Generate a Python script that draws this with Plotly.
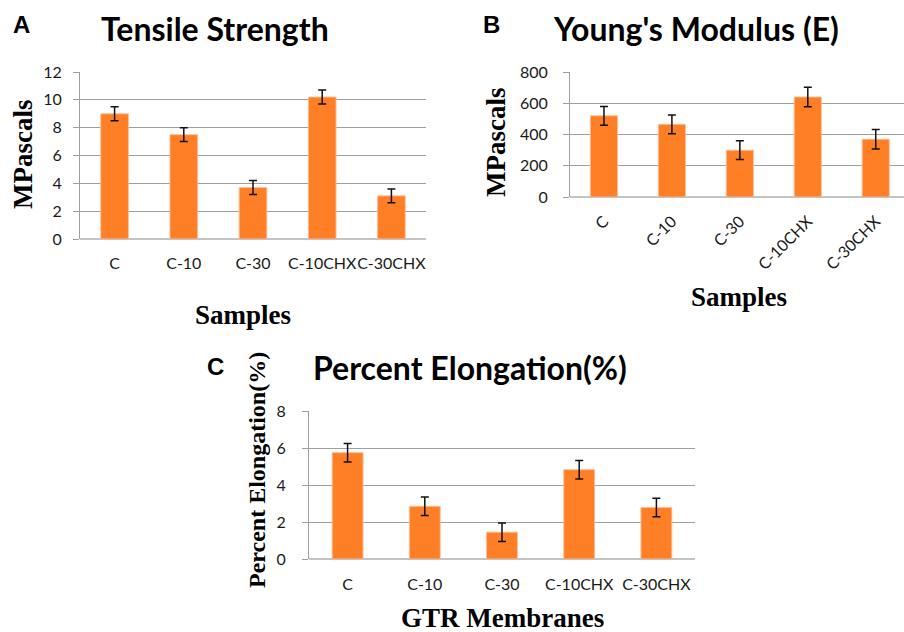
import plotly.graph_objects as go

categories = ["C", "C-10", "C-30", "C-10CHX", "C-30CHX"]
tensile = [9.0, 7.5, 3.7, 10.2, 3.1]
tensile_err = [0.5, 0.5, 0.5, 0.5, 0.5]
modulus = [520, 465, 300, 640, 370]
modulus_err = [60, 60, 60, 62, 62]
elong = [5.75, 2.85, 1.45, 4.83, 2.79]
elong_err = [0.5, 0.5, 0.5, 0.5, 0.5]

W, H = 904, 632
BAR = "rgb(255,127,39)"
GRID = "#9f9f9f"
TICKFONT = dict(family="Lato", size=16, color="#1a1a1a")


def px(x):
    return x / W


def py(y):
    return 1 - y / H


fig = go.Figure()


def add_bars(x, y, err, xa, ya):
    fig.add_trace(go.Bar(
        x=x, y=y, xaxis=xa, yaxis=ya, width=0.4,
        marker=dict(color=BAR, line=dict(color="rgba(255,190,150,0.9)", width=1)),
        error_y=dict(type="data", array=err, visible=True, color="#111111",
                     thickness=1.5, width=4),
        showlegend=False, hoverinfo="x+y",
    ))


add_bars(categories, tensile, tensile_err, "x", "y")
add_bars(categories, modulus, modulus_err, "x2", "y2")
add_bars(categories, elong, elong_err, "x3", "y3")

common_y = dict(showgrid=True, gridcolor=GRID, gridwidth=1, showline=True,
                linecolor=GRID, linewidth=1, ticks="outside", ticklen=6,
                tickcolor=GRID, zeroline=True, zerolinecolor="#c4c4c4",
                zerolinewidth=2, tickfont=TICKFONT, fixedrange=True,
                automargin=False)
common_x = dict(showgrid=False, showline=False, ticks="", tickfont=TICKFONT,
                fixedrange=True, automargin=False)

fig.update_layout(
    width=W, height=H,
    margin=dict(l=0, r=0, t=0, b=0, pad=0, autoexpand=False),
    showlegend=False,
    paper_bgcolor="white", plot_bgcolor="white", bargap=0.6,
    xaxis=dict(domain=[px(80), px(426)], anchor="y", range=[-0.5, 4.5],
               tickangle=0, ticklabelstandoff=13, **common_x),
    yaxis=dict(domain=[py(239), py(72)], anchor="x", range=[0, 12], dtick=2,
               ticklabelstandoff=8, **common_y),
    xaxis2=dict(domain=[px(570), 1.0], anchor="y2", range=[-0.5, 4.416],
                tickangle=-45, ticklabelstandoff=11, **common_x),
    yaxis2=dict(domain=[py(197), py(72)], anchor="x2", range=[0, 800], dtick=200,
                ticklabelstandoff=12, **common_y),
    xaxis3=dict(domain=[px(309), px(695)], anchor="y3", range=[-0.5, 4.5],
                tickangle=0, ticklabelstandoff=14, **common_x),
    yaxis3=dict(domain=[py(559), py(411)], anchor="x3", range=[0, 8], dtick=2,
                ticklabelstandoff=13, **common_y),
)

TITLE_FONT = dict(family="Lato", size=32, color="black", weight="bold")
LETTER_FONT = dict(family="Liberation Sans", size=24, color="black", weight="bold")
SERIF = dict(family="Liberation Serif", size=27, color="black", weight="bold")

annotations = [
    dict(text="A", x=21, y=25, font=LETTER_FONT),
    dict(text="Tensile Strength", x=215, y=28, font=TITLE_FONT),
    dict(text="B", x=492, y=25, font=LETTER_FONT),
    dict(text="Young's Modulus (E)", x=696, y=28, font=TITLE_FONT),
    dict(text="C", x=215, y=366, font=LETTER_FONT),
    dict(text="Percent Elongation(%)", x=470, y=367, font=TITLE_FONT),
    dict(text="MPascals", x=23, y=155, font=SERIF, textangle=-90),
    dict(text="Samples", x=243, y=315, font=SERIF),
    dict(text="MPascals", x=496, y=142, font=SERIF, textangle=-90),
    dict(text="Samples", x=739, y=297, font=SERIF),
    dict(text="Percent Elongation(%)", x=257, y=470,
         font=dict(SERIF, size=24), textangle=-90),
    dict(text="GTR Membranes", x=502, y=618, font=SERIF),
]
for a in annotations:
    fig.add_annotation(text=a["text"], x=px(a["x"]), y=py(a["y"]), xref="paper",
                       yref="paper", showarrow=False, xanchor="center",
                       yanchor="middle", font=a["font"],
                       textangle=a.get("textangle", 0))

fig.write_html("out.html")
